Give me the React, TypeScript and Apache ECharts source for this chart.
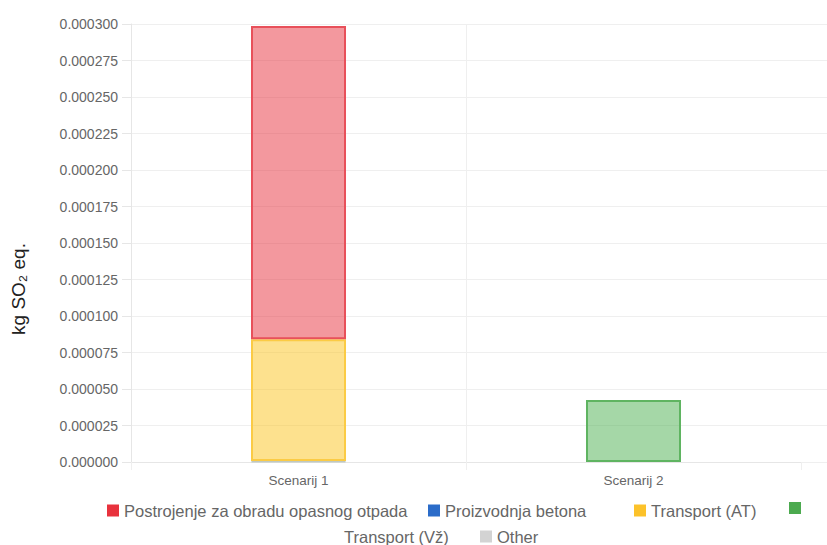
import React, { useEffect, useRef } from "react";
import * as echarts from "echarts";

const categories = ["Scenarij 1", "Scenarij 2"];
const postrojenje = [0.0002146, null];
const proizvodnja = [null, null];
const transportAT = [0.0000835, null];
const transportVZ = [null, 0.0000425];
const other = [0.0000006, null];
const yLabelTitle = "kg SO₂ eq.";

const FONT = "'Liberation Sans', Arial, sans-serif";

const N_POST = "Postrojenje za obradu opasnog otpada";
const N_PROIZ = "Proizvodnja betona";
const N_AT = "Transport (AT)";
const N_VZ = "Transport (Vž)";
const N_OTHER = "Other";

export default function App() {
  const ref = useRef<HTMLDivElement>(null);
  useEffect(() => {
    if (!ref.current) return;
    const chart = echarts.init(ref.current, null, { renderer: "svg" });
    const gridC = "#e6e6e6";
    const splitC = "#efefef";
    const mk = (name: string, data: any[], fill: string, border: string) => ({
      name,
      type: "bar",
      stack: "total",
      data,
      barWidth: 95,
      xAxisIndex: 0,
      yAxisIndex: 0,
      itemStyle: { color: fill, borderColor: border, borderWidth: 2 },
    });
    const leg = (name: string, color: string, left: number, top: number, hideText = false) => ({
      left,
      top,
      padding: 0,
      icon: "rect",
      itemWidth: 12,
      itemHeight: 12,
      itemGap: 0,
      textStyle: { color: "#666", fontSize: 16.5, fontFamily: FONT },
      formatter: hideText ? () => "" : undefined,
      data: [{ name, itemStyle: { color, borderWidth: 0 } }],
    });
    chart.setOption({
      animation: false,
      textStyle: { fontFamily: FONT },
      grid: [
        { left: 131, right: 26, top: 24, bottom: 83, containLabel: false },
        { left: 801, right: 0, top: 24, bottom: 83, containLabel: false },
      ],
      xAxis: [
        {
          type: "category",
          gridIndex: 0,
          data: categories,
          axisLine: { show: true, lineStyle: { color: gridC } },
          axisTick: { show: true, length: 8, lineStyle: { color: splitC } },
          splitLine: { show: true, lineStyle: { color: [splitC, splitC, "rgba(0,0,0,0)"] } },
          axisLabel: { color: "#666", fontSize: 13.5, margin: 11, fontFamily: FONT },
        },
        {
          type: "value",
          gridIndex: 1,
          show: false,
          min: 0,
          max: 1,
        },
      ],
      yAxis: [
        {
          type: "value",
          gridIndex: 0,
          min: 0,
          max: 0.0003,
          interval: 0.000025,
          axisLine: { show: true, lineStyle: { color: gridC } },
          axisTick: { show: true, length: 9, lineStyle: { color: gridC } },
          splitLine: { show: true, lineStyle: { color: splitC } },
          axisLabel: {
            color: "#666",
            fontSize: 14,
            margin: 13,
            fontFamily: FONT,
            formatter: (v: number) => v.toFixed(6),
          },
        },
        {
          type: "value",
          gridIndex: 1,
          min: 0,
          max: 0.0003,
          interval: 0.000025,
          axisLine: { show: false },
          axisTick: { show: false },
          axisLabel: { show: false },
          splitLine: { show: true, lineStyle: { color: splitC } },
        },
      ],
      legend: [
        leg(N_POST, "#e8323d", 107, 502),
        leg(N_PROIZ, "#2b6cc9", 428, 502),
        leg(N_AT, "#fcc22a", 634, 502),
        leg(N_VZ, "#4caa4f", 789, 502, true),
        leg(N_VZ, "rgba(0,0,0,0)", 327, 528),
        leg(N_OTHER, "#d3d3d3", 480, 528),
      ],
      graphic: [
        {
          type: "text",
          x: 18,
          y: 289,
          rotation: Math.PI / 2,
          style: {
            text: yLabelTitle,
            fontSize: 19,
            fontFamily: FONT,
            fill: "#222",
            align: "center",
            verticalAlign: "middle",
          },
        },
      ],
      series: [
        mk(N_OTHER, other, "rgba(200,200,200,0.6)", "#bfc8c0"),
        mk(N_VZ, transportVZ, "rgba(76,175,80,0.5)", "#5fb461"),
        mk(N_AT, transportAT, "rgba(252,196,30,0.5)", "#fbcb45"),
        mk(N_PROIZ, proizvodnja, "rgba(43,108,201,0.5)", "#2b6cc9"),
        mk(N_POST, postrojenje, "rgba(232,50,61,0.5)", "#e8505a"),
      ],
    });
    return () => chart.dispose();
  }, []);
  return (
    <div
      ref={ref}
      style={{ position: "fixed", left: 0, top: 0, width: 827, height: 545, background: "#fff" }}
    />
  );
}
